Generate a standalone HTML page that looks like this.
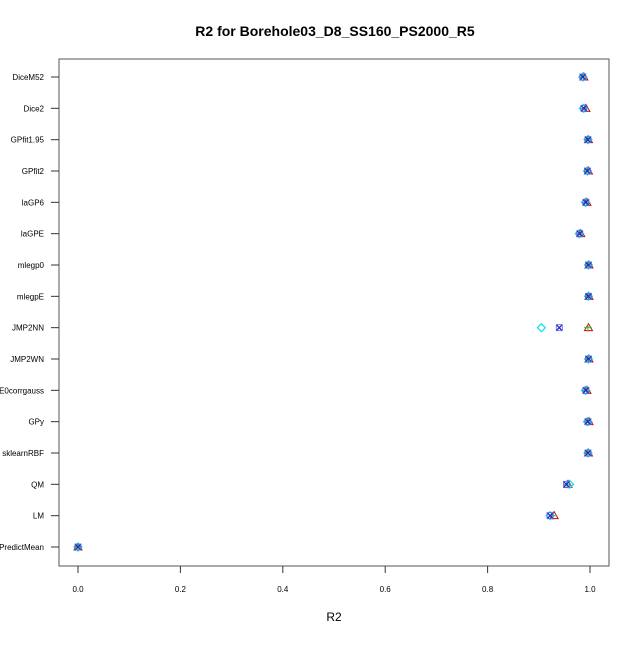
<!DOCTYPE html>
<html><head><meta charset="utf-8"><style>
body{margin:0;background:#fff;}
svg{font-family:"Liberation Sans",sans-serif;}
</style></head><body>
<svg id="chart" width="640" height="640" xmlns="http://www.w3.org/2000/svg">
<rect width="640" height="640" fill="#fff"/>
<text x="335" y="36" text-anchor="middle" font-size="14" font-weight="bold">R2 for Borehole03_D8_SS160_PS2000_R5</text>
<text x="334" y="621" text-anchor="middle" font-size="12">R2</text>
<rect x="59" y="59" width="550" height="507" fill="none" stroke="#555" stroke-width="1"/>
<g id="axes"></g>
<g id="marks"></g>
</svg>
<script>
const categories=["DiceM52","Dice2","GPfit1.95","GPfit2","laGP6","laGPE","mlegp0","mlegpE","JMP2NN","JMP2WN","DACE0corrgauss","GPy","sklearnRBF","QM","LM","PredictMean"];
const seriesTri=[0.988,0.992,0.997,0.997,0.994,0.982,0.998,0.998,0.997,0.998,0.994,0.998,0.997,0.957,0.93,0.0];
const seriesPlus=[0.987,0.99,0.996,0.996,0.993,0.981,0.997,0.997,0.996,0.997,0.993,0.997,0.996,0.955,0.928,0.0];
const seriesX=[0.986,0.988,0.996,0.995,0.992,0.98,0.997,0.997,0.94,0.997,0.992,0.996,0.996,0.954,0.922,0.0];
const seriesDia=[0.986,0.987,0.996,0.995,0.991,0.979,0.997,0.997,0.905,0.997,0.991,0.995,0.996,0.96,0.922,0.0];
const xTicks=[0,0.2,0.4,0.6,0.8,1.0];
const xTickLabels=["0.0","0.2","0.4","0.6","0.8","1.0"];
const NS="http://www.w3.org/2000/svg";
const xs=v=>78+v*512;
const ys=i=>77+i*(470/(categories.length-1));
function mk(t,a,p){const e=document.createElementNS(NS,t);for(const k in a)e.setAttribute(k,a[k]);p.appendChild(e);return e;}
const ax=document.getElementById('axes'),mg=document.getElementById('marks');
categories.forEach((c,i)=>{
 const l=mk('line',{x1:51,x2:59,y1:ys(i),y2:ys(i),stroke:'#333'},ax);
 
 
 const t=mk('text',{x:44,y:ys(i)+3,'text-anchor':'end','font-size':'8'},ax);t.textContent=c;
 
 
});
xTicks.forEach((v,i)=>{
 const l=mk('line',{x1:xs(v),x2:xs(v),y1:566,y2:573,stroke:'#333'},ax);
 
 
 const t=mk('text',{x:xs(v),y:592,'text-anchor':'middle','font-size':'8'},ax);t.textContent=xTickLabels[i];
 
 
});
categories.forEach((c,i)=>{
 const y=ys(i);
 let x=xs(seriesTri[i]);
 const tr=mk('polygon',{points:`${x},${y-4} ${x+4},${y+3} ${x-4},${y+3}`,fill:'none',stroke:'#e00000','stroke-width':1},mg);
 
 
 x=xs(seriesPlus[i]);
 const p=mk('g',{stroke:'#30c030','stroke-width':1},mg);
 
 
 mk('line',{x1:x-4,y1:y,x2:x+4,y2:y},p);mk('line',{x1:x,y1:y-4,x2:x,y2:y+4},p);
 x=xs(seriesDia[i]);
 const d=mk('polygon',{points:`${x},${y-4} ${x+4},${y} ${x},${y+4} ${x-4},${y}`,fill:'none',stroke:'#00e5ee','stroke-width':1.2},mg);
 
 
 x=xs(seriesX[i]);
 const g=mk('g',{stroke:'#2020d0','stroke-width':1.2},mg);
 
 
 mk('line',{x1:x-3,y1:y-3,x2:x+3,y2:y+3},g);mk('line',{x1:x-3,y1:y+3,x2:x+3,y2:y-3},g);
 mk('rect',{x:x-3,y:y-3,width:6,height:6,fill:'none',stroke:'#6060e0','stroke-width':0.8},g);
});
</script>
</body></html>
